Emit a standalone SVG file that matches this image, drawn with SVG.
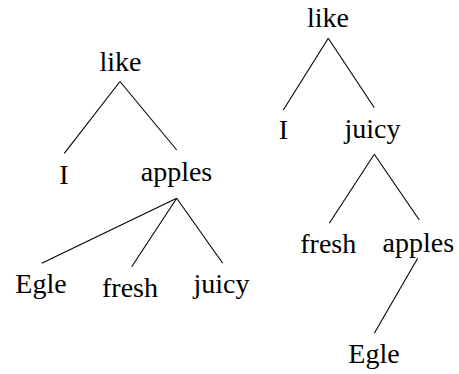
<svg xmlns="http://www.w3.org/2000/svg" width="459" height="374" viewBox="0 0 459 374">
<style>
line{stroke:#000;stroke-width:1.1;fill:none}
</style>
<rect width="459" height="374" fill="#fff"/>
<g id="connectors">
<line x1="120" y1="81.5" x2="64.3" y2="153.3"/>
<line x1="120" y1="81.5" x2="176.7" y2="150"/>
<line x1="176.7" y1="198.3" x2="41.7" y2="263.3"/>
<line x1="176.7" y1="198.3" x2="131.7" y2="266.7"/>
<line x1="176.7" y1="198.3" x2="222.7" y2="263.3"/>
<line x1="328.3" y1="38.3" x2="283.3" y2="110"/>
<line x1="328.3" y1="38.3" x2="374.3" y2="107.7"/>
<line x1="374.3" y1="154.3" x2="329.3" y2="223.3"/>
<line x1="374.3" y1="154.3" x2="419.3" y2="220"/>
<line x1="417.7" y1="258.3" x2="374.3" y2="333.3"/>
</g>
<g font-family="Liberation Serif, serif" font-size="28" fill="#000" text-anchor="middle">
<g id="n-like1"><text x="120.5" y="70.5">like</text></g>
<g id="n-I1"><text x="64" y="183.5">I</text></g>
<g id="n-apples1"><text x="176.5" y="181">apples</text></g>
<g id="n-Egle1"><text x="41" y="293">Egle</text></g>
<g id="n-fresh1"><text x="130" y="296.5">fresh</text></g>
<g id="n-juicy1"><text x="221.5" y="293">juicy</text></g>
<g id="n-like2"><text x="328" y="26.7">like</text></g>
<g id="n-I2"><text x="283.3" y="139.3">I</text></g>
<g id="n-juicy2"><text x="372.5" y="137.5">juicy</text></g>
<g id="n-fresh2"><text x="328.3" y="253.3">fresh</text></g>
<g id="n-apples2"><text x="418.3" y="251.5">apples</text></g>
<g id="n-Egle2"><text x="374" y="363.3">Egle</text></g>
</g>
</svg>
